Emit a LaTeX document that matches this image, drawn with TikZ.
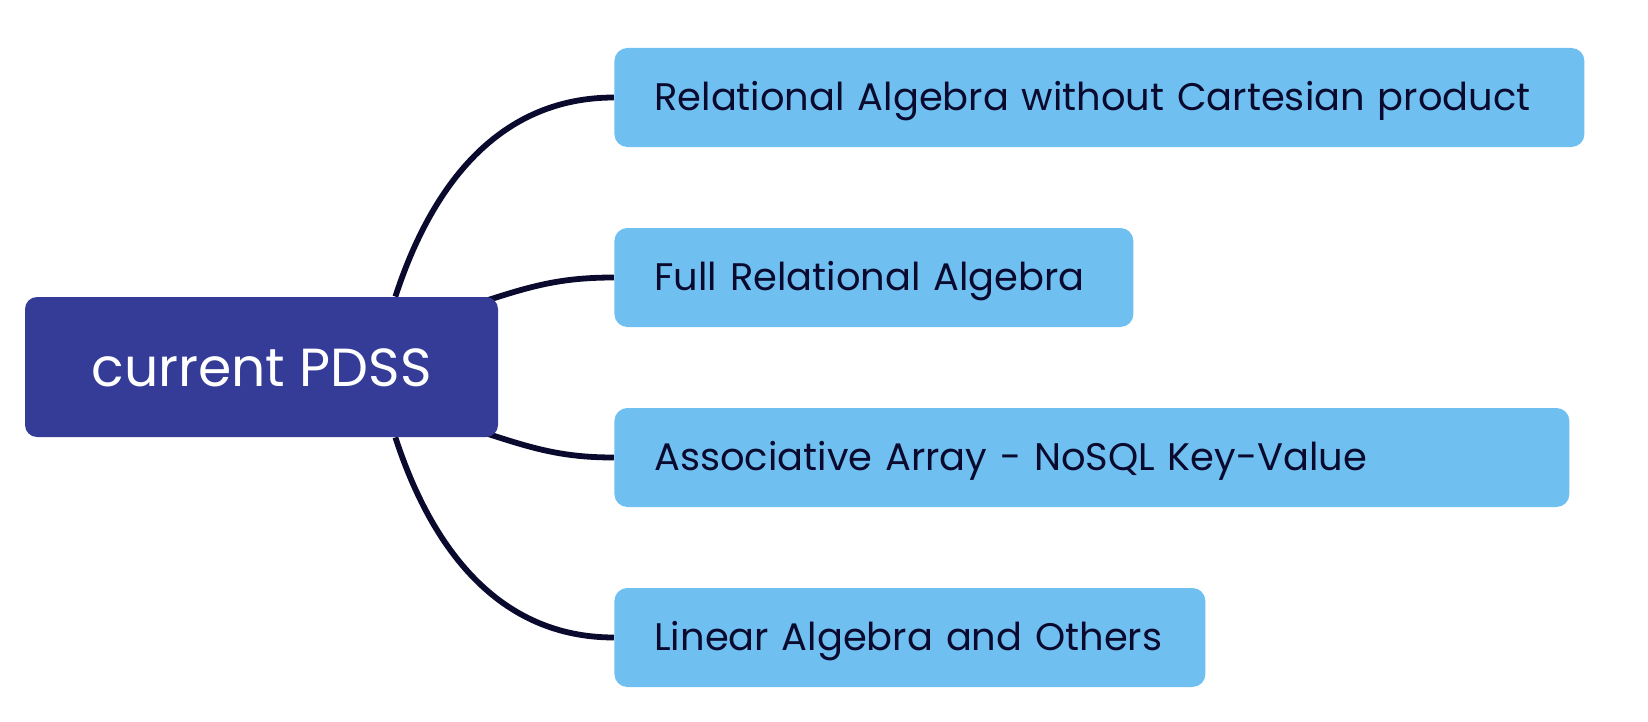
\documentclass[tikz,border=0pt]{standalone}
\usepackage{fontspec}
\setmainfont{Poppins}
\usetikzlibrary{positioning,backgrounds}

\definecolor{rootblue}{HTML}{343C97}
\definecolor{leafblue}{HTML}{70BFF1}
\definecolor{inkblue}{HTML}{0A0A2E}

\tikzset{
  root/.style={fill=rootblue, text=white, rounded corners=6pt,
    minimum width=236.5pt, minimum height=70pt,
    font=\fontsize{26.8}{31}\selectfont, text height=19pt, text depth=0pt},
  leaf/.style={fill=leafblue, text=inkblue, rounded corners=6.5pt, anchor=west,
    minimum height=49.5pt, inner xsep=20pt, align=left,
    font=\fontsize{19.2}{23}\selectfont, text height=13.3pt, text depth=0pt},
  branch/.style={draw=inkblue, line width=2.9pt},
}

\begin{document}
\begin{tikzpicture}[x=0.5pt,y=-0.5pt]

\useasboundingbox (0,0) rectangle (1648,722);

\node [root] (pdss) at (261.5,367) {current PDSS};

\node [leaf, text width=445pt]   (relnocp) at (614,97.5)  {\mbox{Relational Algebra without Cartesian product}};
\node [leaf, text width=219.5pt] (fullrel) at (614,277.5) {\mbox{Full Relational Algebra}};
\node [leaf, text width=437.5pt] (assoc)   at (614,457.5) {\mbox{Associative Array - NoSQL Key-Value}};
\node [leaf, text width=255.5pt] (linalg)  at (614,637.5) {\mbox{Linear Algebra and Others}};

\begin{scope}[on background layer]
\draw [branch] ([xshift=-51.5pt]pdss.north east) to[out=72,in=180] (relnocp.west);
\draw [branch] ([xshift=-6pt,yshift=-2pt]pdss.north east) to[out=18,in=180] (fullrel.west);
\draw [branch] ([xshift=-6pt,yshift=2pt]pdss.south east) to[out=-18,in=180] (assoc.west);
\draw [branch] ([xshift=-51.5pt]pdss.south east) to[out=-72,in=180] (linalg.west);
\end{scope}

\end{tikzpicture}
\end{document}
